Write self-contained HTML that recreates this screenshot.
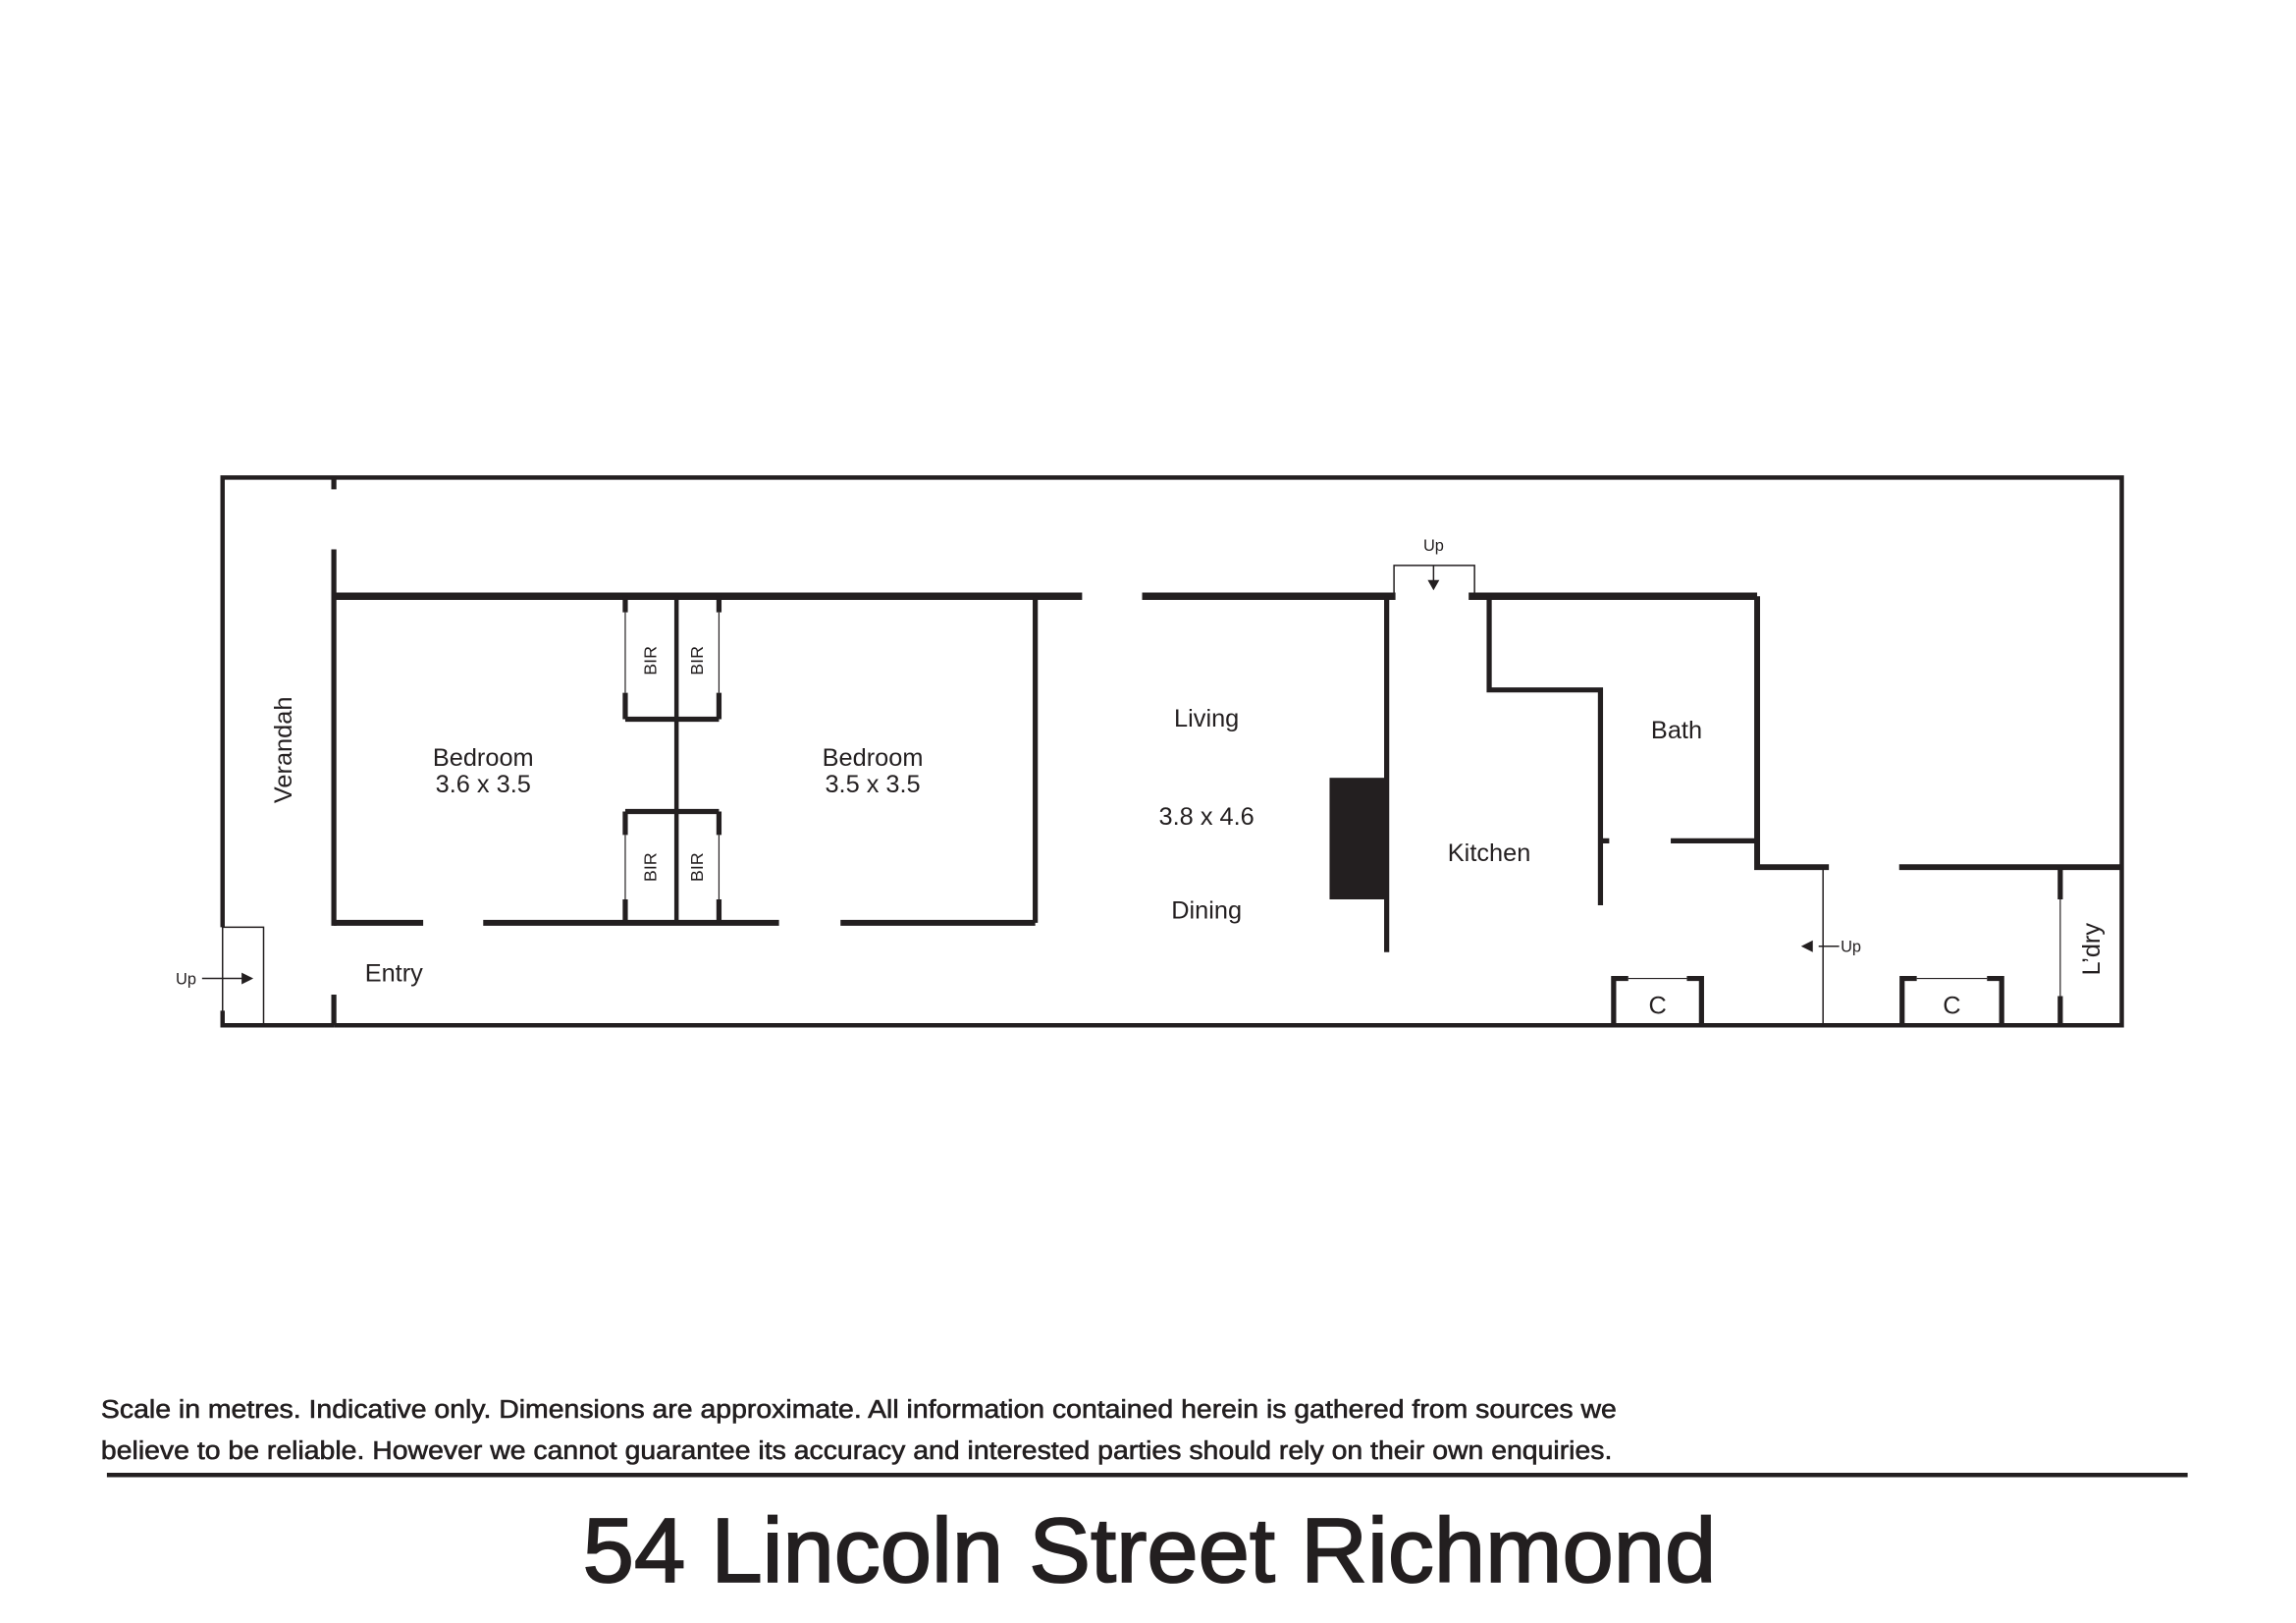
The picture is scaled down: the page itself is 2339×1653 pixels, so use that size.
<!DOCTYPE html>
<html><head><meta charset="utf-8"><style>
html,body{margin:0;padding:0;background:#fff;}
svg{display:block;}
text{font-family:"Liberation Sans",Arial,sans-serif;fill:#231f20;}
</style></head><body>
<svg width="2339" height="1653" viewBox="0 0 1568 1108" xmlns="http://www.w3.org/2000/svg">
<g stroke="#231f20" fill="none" stroke-linecap="butt">
<path d="M152 633 V326 H1449 V700 H228" stroke-width="3"/>
<path d="M152 690 V700 H228" stroke-width="3"/>
<rect x="152" y="633" width="28" height="67" stroke-width="1"/>
<path d="M228 326 V334 M228 375 V632 M228 679 V700" stroke-width="3.5"/>
<path d="M228 407 H739 M780 407 H953 M1003 407 H1200" stroke-width="5"/>
<path d="M707 407 V630" stroke-width="3.5"/>
<path d="M228 630 H289 M330 630 H532 M574 630 H707" stroke-width="4"/>
<path d="M462 407 V630" stroke-width="3"/>
<path d="M427 407 V418 M427 473 V491 M491 407 V418 M491 473 V491 M427 491 H491" stroke-width="3.5"/>
<path d="M427 418 V473 M491 418 V473 M427 570 V614 M491 570 V614" stroke-width="0.8"/>
<path d="M427 554 H491 M427 554 V570 M491 554 V570 M427 614 V630 M491 614 V630" stroke-width="3.5"/>
<path d="M947 407 V650" stroke-width="3.5"/>
<path d="M952 407 V386 H1007 V407" stroke-width="1"/>
<path d="M979 386 V398" stroke-width="1"/>
<path d="M1017 407 V471 H1093 V618" stroke-width="3.5"/>
<path d="M1093 574 H1099 M1141 574 H1200" stroke-width="3.5"/>
<path d="M1200 407 V592 H1249 M1297 592 H1449" stroke-width="4"/>
<path d="M1245 592 V700" stroke-width="1"/>
<path d="M1242 646 H1256" stroke-width="1"/>
<path d="M1407 592 V614 M1407 680 V700" stroke-width="3.5"/>
<path d="M1407 614 V680" stroke-width="0.8"/>
<path d="M1102 700 V668 H1112 M1152 668 H1162 V700" stroke-width="3.5"/>
<path d="M1112 668 H1152" stroke-width="0.8"/>
<path d="M1299 700 V668 H1309 M1357 668 H1367 V700" stroke-width="3.5"/>
<path d="M1309 668 H1357" stroke-width="0.8"/>
<path d="M138 668 H167" stroke-width="1"/>
<path d="M73 1007 H1494" stroke-width="3"/>
</g>
<g fill="#231f20">
<rect x="908" y="531" width="39" height="83"/>
<polygon points="975,396 983,396 979,403"/>
<polygon points="165,664 165,672 173,668"/>
<polygon points="1230,646 1238,642 1238,650"/>
</g>
<g font-size="17" text-anchor="middle">
<text x="330" y="523">Bedroom</text><text x="330" y="541">3.6 x 3.5</text>
<text x="596" y="523">Bedroom</text><text x="596" y="541">3.5 x 3.5</text>
<text x="824" y="496">Living</text>
<text x="824" y="563">3.8 x 4.6</text>
<text x="824" y="627">Dining</text>
<text x="1017" y="588">Kitchen</text>
<text x="1145" y="504">Bath</text>
<text x="269" y="670">Entry</text>
<text x="1132" y="692">C</text>
<text x="1333" y="692">C</text>
<text transform="translate(199,512) rotate(-90)">Verandah</text>
<text transform="translate(1434,648) rotate(-90)">L’dry</text>
</g>
<g font-size="12" text-anchor="middle">
<text transform="translate(448,451) rotate(-90)">BIR</text>
<text transform="translate(480,451) rotate(-90)">BIR</text>
<text transform="translate(448,592) rotate(-90)">BIR</text>
<text transform="translate(480,592) rotate(-90)">BIR</text>
</g>
<g font-size="11">
<text x="120" y="672">Up</text>
<text x="972" y="376">Up</text>
<text x="1257" y="650">Up</text>
</g>
<text x="69" y="968" font-size="17.5" textLength="1035" lengthAdjust="spacingAndGlyphs" stroke="#231f20" stroke-width="0.4">Scale in metres. Indicative only. Dimensions are approximate. All information contained herein is gathered from sources we</text>
<text x="69" y="996" font-size="17.5" textLength="1032" lengthAdjust="spacingAndGlyphs" stroke="#231f20" stroke-width="0.4">believe to be reliable. However we cannot guarantee its accuracy and interested parties should rely on their own enquiries.</text>
<text x="398" y="1080" font-size="62" textLength="774" lengthAdjust="spacingAndGlyphs" stroke="#231f20" stroke-width="1.2">54 Lincoln Street Richmond</text>
</svg>
</body></html>
